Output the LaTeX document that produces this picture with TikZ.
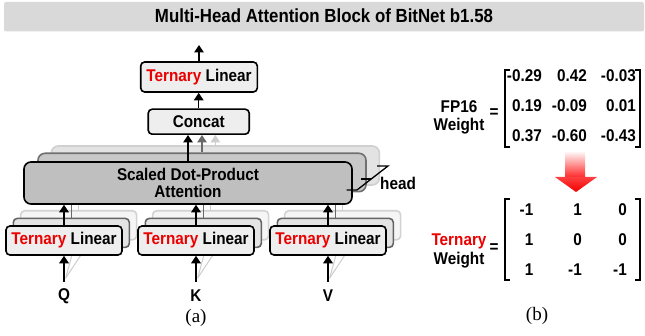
\documentclass[tikz,border=0pt]{standalone}
\usepackage{fontspec}
\setmainfont[FakeStretch=0.9]{Liberation Sans}
\newfontfamily\titlefont[FakeStretch=0.887]{Liberation Sans}
\newfontfamily\seriffont{Liberation Serif}
\usetikzlibrary{arrows.meta,calc}
\definecolor{tred}{RGB}{235,0,0}
\definecolor{titlegray}{RGB}{217,217,217}
\definecolor{boxfill}{RGB}{238,238,238}
\definecolor{midedge}{RGB}{100,100,100}
\definecolor{midfill}{RGB}{228,228,228}
\definecolor{backedge}{RGB}{210,210,210}
\definecolor{backfill}{RGB}{245,245,245}
\definecolor{sdfill}{RGB}{191,191,191}
\definecolor{sdmidfill}{RGB}{200,200,200}
\definecolor{sdmidedge}{RGB}{112,112,112}
\definecolor{sdbackfill}{RGB}{227,227,227}
\definecolor{sdbackedge}{RGB}{208,208,208}
\definecolor{arrgray}{RGB}{105,105,105}
\definecolor{arrlight}{RGB}{205,205,205}
\begin{document}
\begin{tikzpicture}[x=1pt,y=-1pt,
  lbl/.style={font=\fontsize{17}{18.3}\selectfont\bfseries},
  basebox/.style={line width=1.6pt, rounded corners=4pt, inner sep=0pt, minimum width=116pt, minimum height=29pt},
  tlbox/.style={basebox, draw=black, fill=boxfill, lbl},
  tlmid/.style={basebox, draw=midedge, fill=midfill},
  tlback/.style={basebox, draw=backedge, fill=backfill},
  sdbase/.style={line width=1.6pt, rounded corners=7pt, inner sep=0pt, minimum width=328pt},
  sdfront/.style={sdbase, draw=black, fill=sdfill, minimum height=42pt, align=center, font=\fontsize{17}{16.7}\selectfont\bfseries},
  sdmid/.style={sdbase, draw=sdmidedge, fill=sdmidfill, minimum height=38.4pt},
  sdback/.style={sdbase, draw=sdbackedge, fill=sdbackfill, minimum height=39pt},
  arr/.style={line width=1.5pt, -{Triangle[length=7.5pt,width=9.5pt]}},
  grayarr/.style={arr, draw=arrgray, fill=arrgray},
  lightarr/.style={arr, draw=arrlight, fill=arrlight},
  grayline/.style={line width=1.3pt, draw=arrgray},
  lightline/.style={line width=1.3pt, draw=arrlight},
  faintline/.style={line width=1pt, draw=arrlight},
  entry/.style={lbl, anchor=east, inner sep=0pt},
  brack/.style={line width=1.8pt},
]
\useasboundingbox (0,0) rectangle (645,336);

% title
\node[fill=titlegray, rounded corners=2pt, minimum width=640pt, minimum height=29.5pt, inner sep=0pt] (titlebar) at (324,16.75) {};
\node[anchor=base, inner sep=0pt, font=\titlefont\fontsize{19}{22}\selectfont\bfseries] (title) at (324,22.7) {Multi-Head Attention Block of BitNet b1.58};

% scaled dot-product attention stack
\node[sdback] (sdpa3) at (215.3,165.5) {};
\node[sdmid] (sdpa2) at (202,172.5) {};
\node[sdfront] (sdpa1) at (188,183) {Scaled Dot-Product\\Attention};

% head indicator
\coordinate (h0) at (346.5,190);
\coordinate (h1) at (357,190);
\coordinate (h2) at (388,166);
\coordinate (h3) at (377,166);
\coordinate (hm0) at (361,179);
\coordinate (hm1) at (371,179);
\draw[line width=1.3pt] (h0) -- (h1) -- (h2) -- (h3);
\draw[line width=1.3pt] (hm0) -- (hm1);
\node[lbl, anchor=west, inner sep=0pt] (head) at (380,183) {head};

% linear stacks for Q, K, V
\foreach \n/\x/\lab in {q/64/Q, k/196/K, v/328/V}{
  \node[tlback] (\n3) at (\x+14.6,225.3) {};
  \node[tlmid] (\n2) at (\x+7.3,232.9) {};
  \coordinate (\n s) at (\x+1.7,278);
  \coordinate (\n ga) at (\x+9.3,250);
  \coordinate (\n la) at (\x+20.2,250);
  \draw[faintline] (\n s) -- (\n ga);
  \draw[faintline] (\n s) -- (\n la);
  \node[tlbox] (\n1) at (\x,240.5) {\textcolor{tred}{Ternary} Linear};
  \node[lbl, inner sep=0pt] (\n in) at (\x,296) {\lab};
  \coordinate (\n b) at (\x,282);
  \draw[arr] (\n b) -- (\n1.south);
  \draw[arr] (\n1.north) -- (\n1.north |- sdpa1.south);
  \draw[grayline] (\n2.north) -- (\n2.north |- sdpa1.south);
  \draw[lightline] (\n3.north) -- (\n3.north |- sdpa1.south);
}

% concat and output linear
\node[tlbox, minimum width=101pt, minimum height=25pt] (concat) at (198.7,121.7) {Concat};
\node[tlbox, minimum width=116.6pt, minimum height=30pt] (top) at (199,77) {\textcolor{tred}{Ternary} Linear};
\coordinate (out) at (199,45);
\draw[arr] (top.north) -- (out);
\draw[arr] (concat.north) -- (concat.north |- top.south);
\draw[lightarr] (sdpa3.north) -- (sdpa3.north |- concat.south);
\draw[grayarr] (sdpa2.north) -- (sdpa2.north |- concat.south);
\draw[arr] (sdpa1.north) -- (sdpa1.north |- concat.south);

\node[font=\seriffont\fontsize{19}{21}\selectfont, inner sep=0pt] (capa) at (196,318) {(a)};

% FP16 weight matrix
\node[lbl, align=center, inner sep=0pt] (fp) at (459,117.5) {FP16\\Weight};
\node[lbl, inner sep=0pt] (eq1) at (494,113) {=};
\draw[brack] (510,70) -- (505,70) -- (505,147) -- (510,147);
\draw[brack] (635,70) -- (640,70) -- (640,147) -- (635,147);
\node[entry] (f11) at (542,75.8) {-0.29};
\node[entry] (f12) at (587,75.8) {0.42};
\node[entry] (f13) at (636,75.8) {-0.03};
\node[entry] (f21) at (542,105.7) {0.19};
\node[entry] (f22) at (587,105.7) {-0.09};
\node[entry] (f23) at (636,105.7) {0.01};
\node[entry] (f31) at (542,135.7) {0.37};
\node[entry] (f32) at (587,135.7) {-0.60};
\node[entry] (f33) at (636,135.7) {-0.43};

% red arrow
\shade[top color=red!4, bottom color=red!85] (565,152) rectangle (585,177.5);
\shade[top color=red!75, bottom color=red!95!black] (555,177) -- (597,177) -- (576,192) -- cycle;

% ternary weight matrix
\node[lbl, align=center, inner sep=0pt] (tw) at (459,251) {\textcolor{tred}{Ternary}\\[1.2pt]Weight};
\node[lbl, inner sep=0pt] (eq2) at (494,248) {=};
\draw[brack] (510,199.3) -- (505,199.3) -- (505,280) -- (510,280);
\draw[brack] (635,199.3) -- (640,199.3) -- (640,280) -- (635,280);
\node[entry] (t11) at (533.5,210) {-1};
\node[entry] (t12) at (582,210) {1};
\node[entry] (t13) at (627,210) {0};
\node[entry] (t21) at (533.5,240) {1};
\node[entry] (t22) at (582,240) {0};
\node[entry] (t23) at (627,240) {0};
\node[entry] (t31) at (533.5,270) {1};
\node[entry] (t32) at (582,270) {-1};
\node[entry] (t33) at (627,270) {-1};

\node[font=\seriffont\fontsize{19}{21}\selectfont, inner sep=0pt] (capb) at (537,316) {(b)};
\end{tikzpicture}
\end{document}
